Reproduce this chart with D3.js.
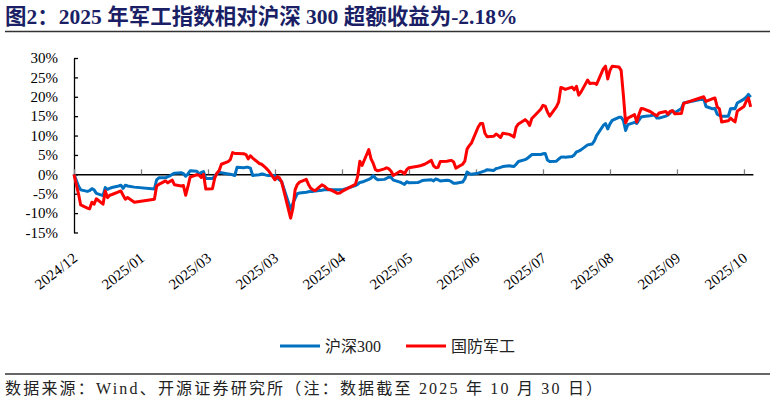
<!DOCTYPE html>
<html>
<head>
<meta charset="utf-8">
<title>军工指数 vs 沪深300</title>
<script src="https://d3js.org/d3.v7.min.js"></script>
<style>
  body { margin: 0; background: #fff; }
  text { font-family: "Liberation Serif", "Noto Sans CJK SC", serif; }
  .line { fill: none; stroke-width: 3px; stroke-linejoin: round; }
</style>
</head>
<body>
<div id="chart"></div>
<script>

// trading days, 2024-12-31 .. 2025-10-30
var dates = ["2024-12-31",
  "2025-01-02","2025-01-03","2025-01-06","2025-01-07","2025-01-08","2025-01-09","2025-01-10","2025-01-13","2025-01-14",
  "2025-01-15","2025-01-16","2025-01-17","2025-01-20","2025-01-21","2025-01-22","2025-01-23","2025-01-24","2025-01-27",
  "2025-02-05","2025-02-06","2025-02-07","2025-02-10","2025-02-11","2025-02-12","2025-02-13","2025-02-14","2025-02-17",
  "2025-02-18","2025-02-19","2025-02-20","2025-02-21","2025-02-24","2025-02-25","2025-02-26","2025-02-27","2025-02-28",
  "2025-03-03","2025-03-04","2025-03-05","2025-03-06","2025-03-07","2025-03-10","2025-03-11","2025-03-12","2025-03-13",
  "2025-03-14","2025-03-17","2025-03-18","2025-03-19","2025-03-20","2025-03-21","2025-03-24","2025-03-25","2025-03-26",
  "2025-03-27","2025-03-28","2025-03-31",
  "2025-04-01","2025-04-02","2025-04-03","2025-04-07","2025-04-08","2025-04-09","2025-04-10","2025-04-11","2025-04-14",
  "2025-04-15","2025-04-16","2025-04-17","2025-04-18","2025-04-21","2025-04-22","2025-04-23","2025-04-24","2025-04-25",
  "2025-04-28","2025-04-29","2025-04-30",
  "2025-05-06","2025-05-07","2025-05-08","2025-05-09","2025-05-12","2025-05-13","2025-05-14","2025-05-15","2025-05-16",
  "2025-05-19","2025-05-20","2025-05-21","2025-05-22","2025-05-23","2025-05-26","2025-05-27","2025-05-28","2025-05-29",
  "2025-05-30",
  "2025-06-03","2025-06-04","2025-06-05","2025-06-06","2025-06-09","2025-06-10","2025-06-11","2025-06-12","2025-06-13",
  "2025-06-16","2025-06-17","2025-06-18","2025-06-19","2025-06-20","2025-06-23","2025-06-24","2025-06-25","2025-06-26",
  "2025-06-27","2025-06-30",
  "2025-07-01","2025-07-02","2025-07-03","2025-07-04","2025-07-07","2025-07-08","2025-07-09","2025-07-10","2025-07-11",
  "2025-07-14","2025-07-15","2025-07-16","2025-07-17","2025-07-18","2025-07-21","2025-07-22","2025-07-23","2025-07-24",
  "2025-07-25","2025-07-28","2025-07-29","2025-07-30","2025-07-31",
  "2025-08-01","2025-08-04","2025-08-05","2025-08-06","2025-08-07","2025-08-08","2025-08-11","2025-08-12","2025-08-13",
  "2025-08-14","2025-08-15","2025-08-18","2025-08-19","2025-08-20","2025-08-21","2025-08-22","2025-08-25","2025-08-26",
  "2025-08-27","2025-08-28","2025-08-29",
  "2025-09-01","2025-09-02","2025-09-03","2025-09-04","2025-09-05","2025-09-08","2025-09-09","2025-09-10","2025-09-11",
  "2025-09-12","2025-09-15","2025-09-16","2025-09-17","2025-09-18","2025-09-19","2025-09-22","2025-09-23","2025-09-24",
  "2025-09-25","2025-09-26","2025-09-29","2025-09-30",
  "2025-10-09","2025-10-10","2025-10-13","2025-10-14","2025-10-15","2025-10-16","2025-10-17","2025-10-20","2025-10-21",
  "2025-10-22","2025-10-23","2025-10-24","2025-10-27","2025-10-28","2025-10-29","2025-10-30"]

// 沪深300 cumulative return, %
var hs300 = [0,
  -3.0,-4.0,-4.4,-4.2,-3.7,-4.0,-4.9,-5.5,-3.4,
  -3.9,-3.6,-3.4,-3.0,-2.8,-3.6,-2.8,-3.0,-3.3,
  -3.8,-1.4,-0.9,-0.9,-0.6,-0.4,0.0,0.3,0.4,
  0.2,-0.5,0.1,0.9,0.8,0.1,0.5,0.7,-1.1,
  -1.1,-0.5,0.2,0.5,0.4,0.1,0.0,-0.1,-0.3,
  1.8,1.7,1.8,1.8,1.6,-0.3,-0.1,0.1,0.0,
  -0.2,-0.3,-0.3,
  -0.9,-1.4,-1.9,-9.0,-7.5,-6.2,-5.0,-4.8,-4.6,
  -4.5,-4.4,-4.4,-4.3,-4.1,-4.0,-4.0,-4.0,-4.0,
  -4.0,-4.0,-4.0,
  -2.9,-2.6,-2.1,-2.0,-1.3,-1.0,-0.3,-1.0,-1.4,
  -1.3,-1.0,-0.7,-0.8,-1.5,-2.0,-2.3,-2.6,-1.9,
  -2.2,
  -2.1,-1.9,-1.6,-1.5,-1.4,-1.7,-1.2,-1.4,-1.7,
  -1.5,-1.6,-1.9,-2.3,-2.3,-2.0,-1.2,0.6,0.2,
  0.0,0.3,
  0.5,0.7,0.9,1.2,1.0,1.5,1.6,1.8,2.0,
  2.2,2.1,2.0,2.6,3.3,3.8,4.1,4.6,5.1,
  5.1,5.1,5.3,5.4,3.7,
  3.3,3.4,3.9,4.4,4.5,4.4,4.6,5.0,5.8,
  6.0,6.3,7.6,7.7,7.8,8.6,10.0,12.6,13.1,
  11.7,13.0,13.9,
  14.7,14.7,13.9,11.3,12.8,13.4,13.1,14.0,14.8,
  14.9,15.1,15.2,15.3,14.5,14.5,15.0,15.3,15.9,
  16.4,15.9,17.0,18.4,
  19.5,17.5,16.9,17.0,15.5,15.2,15.0,15.0,16.9,
  17.0,16.9,18.4,19.4,19.9,20.6,19.9]

// 国防军工 cumulative return, %
var defense = [0,
  -5.0,-7.9,-8.7,-8.9,-7.2,-7.7,-6.3,-7.7,-4.3,
  -6.0,-5.4,-5.2,-4.5,-4.3,-5.4,-6.4,-6.0,-7.2,
  -6.4,-3.0,-2.6,-1.7,-2.2,-1.8,-1.5,-2.7,-3.0,
  -2.9,-5.4,-3.2,-0.7,-0.1,-0.2,-0.8,0.0,-3.8,
  -3.7,-1.0,0.3,1.0,2.6,3.3,3.8,5.6,5.4,
  5.4,5.3,5.1,4.0,4.8,4.2,2.8,2.6,2.1,
  1.6,1.0,-1.4,
  -0.6,-0.9,-2.0,-11.3,-8.8,-4.0,-2.6,-2.0,-1.3,
  -2.6,-3.6,-4.0,-4.2,-2.7,-3.0,-3.5,-3.9,-4.0,
  -4.9,-4.8,-4.4,
  -2.6,-0.6,3.4,2.3,6.4,4.0,2.8,1.2,0.9,
  1.4,1.7,1.4,0.8,-0.3,0.8,0.6,0.1,1.2,
  1.7,
  2.1,2.2,2.4,2.6,3.6,2.2,1.7,1.8,3.3,
  3.4,3.5,3.6,3.2,1.6,2.6,3.4,6.5,7.4,
  8.1,12.2,
  13.1,13.1,10.6,9.7,9.8,10.4,10.0,9.5,10.6,
  10.3,10.0,9.6,12.2,13.0,14.1,13.6,12.6,14.4,
  15.0,16.8,17.8,17.6,16.1,
  15.0,17.4,18.6,22.4,22.2,21.9,22.5,21.8,22.7,
  20.4,21.2,24.3,23.4,23.5,23.5,23.2,27.2,27.9,
  24.6,26.8,27.9,
  27.7,26.8,20.4,13.3,14.5,15.4,13.5,15.5,17.0,
  16.9,16.2,15.8,15.4,15.1,15.8,16.2,15.5,16.3,
  16.4,15.6,15.7,18.3,
  20.0,18.8,19.5,19.7,17.4,16.9,13.5,13.8,14.5,
  14.0,13.5,16.3,17.5,18.8,19.7,17.4]

var yTicks = [30, 25, 20, 15, 10, 5, 0, -5, -10, -15]
var xTickDates = ["2024-12-31","2025-01-30","2025-03-01","2025-03-31","2025-04-30","2025-05-30",
  "2025-06-29","2025-07-29","2025-08-28","2025-09-27","2025-10-27"]
var seriesNames = ["沪深300", "国防军工"]
var seriesColors = ["#0070c0", "#ff0000"]

const width = 774
const height = 406

var parse = d3.utcParse("%Y-%m-%d")

var svg = d3.select('#chart')
  .append('svg')
  .attr('width', width)
  .attr('height', height)
  .style('display', 'block')
  .style('background', '#fff')

// title + rule
svg.append('text')
  .attr('x', 5)
  .attr('y', 24)
  .style('font-size', '21.5px')
  .style('font-weight', 'bold')
  .style('fill', '#1a1f66')
  .text('图2：2025 年军工指数相对沪深 300 超额收益为-2.18%')

svg.append('line')
  .attr('x1', 5).attr('x2', 770)
  .attr('y1', 31.5).attr('y2', 31.5)
  .style('stroke', '#333')
  .style('stroke-width', 1.3)

var xScale = d3.scaleUtc()
  .domain([parse("2024-12-31"), parse("2025-10-31")])
  .range([74, 752.9])

var yScale = d3.scaleLinear()
  .domain([-15, 30])
  .range([232.5, 58])

// y axis
var yAxis = d3.axisLeft(yScale)
  .tickValues(yTicks)
  .tickSize(-4)
  .tickSizeOuter(0)
  .tickPadding(16)
  .tickFormat(d => d + '%')

var gy = svg.append('g')
  .attr('transform', 'translate(74,0)')
  .call(yAxis)
gy.select('.domain').style('stroke', '#000').style('stroke-width', 1.3)
gy.selectAll('.tick line').style('stroke', '#000').style('stroke-width', 1.3)
gy.selectAll('text')
  .style('font-size', '15px')
  .style('fill', '#000')
  .style('font-family', '"Liberation Serif", serif')

// zero line with small ticks
var tickDates = xTickDates.map(parse)

var xAxis = d3.axisBottom(xScale)
  .tickValues(tickDates)
  .tickSize(-5)
  .tickSizeOuter(0)
  .tickFormat('')

var gx = svg.append('g')
  .attr('transform', 'translate(0,' + yScale(0) + ')')
  .call(xAxis)
gx.select('.domain').style('stroke', '#000').style('stroke-width', 1.5)
gx.selectAll('.tick line').style('stroke', '#808080').style('stroke-width', 1.3)

// rotated date labels
var xLabels = d3.axisBottom(xScale)
  .tickValues(tickDates)
  .tickSize(0)
  .tickFormat(d3.utcFormat('%Y/%m'))

var gl = svg.append('g')
  .attr('transform', 'translate(0,260)')
  .call(xLabels)
gl.select('.domain').remove()
gl.selectAll('text')
  .attr('x', 0)
  .attr('y', 0)
  .attr('dy', 0)
  .attr('text-anchor', 'end')
  .attr('transform', 'translate(4,0) rotate(-38)')
  .style('font-size', '15px')
  .style('fill', '#000')
  .style('font-family', '"Liberation Serif", serif')

// lines
var rows = dates.map((d, i) => ({date: parse(d), hs: hs300[i], jg: defense[i]}))

var lineHs = d3.line()
  .x(d => xScale(d.date))
  .y(d => yScale(d.hs))

var lineJg = d3.line()
  .x(d => xScale(d.date))
  .y(d => yScale(d.jg))

svg.append('path')
  .datum(rows)
  .attr('class', 'line')
  .style('stroke', seriesColors[0])
  .attr('d', lineHs)

svg.append('path')
  .datum(rows)
  .attr('class', 'line')
  .style('stroke', seriesColors[1])
  .attr('d', lineJg)

// legend
var legend = svg.append('g').attr('transform', 'translate(280,346)')
var legendX = [0, 126]
seriesNames.forEach((name, i) => {
  var g = legend.append('g').attr('transform', 'translate(' + legendX[i] + ',0)')
  g.append('line')
    .attr('x1', 0).attr('x2', 40)
    .attr('y1', 0).attr('y2', 0)
    .style('stroke', seriesColors[i])
    .style('stroke-width', 3)
  g.append('text')
    .attr('x', 45)
    .attr('y', 6)
    .style('font-size', '16px')
    .style('fill', '#222')
    .text(name)
})

// source note
svg.append('line')
  .attr('x1', 5).attr('x2', 770)
  .attr('y1', 374).attr('y2', 374)
  .style('stroke', '#333')
  .style('stroke-width', 1.3)

svg.append('text')
  .attr('x', 5)
  .attr('y', 394)
  .style('font-size', '16px')
  .style('letter-spacing', '2.2px')
  .style('fill', '#222')
  .text('数据来源：Wind、开源证券研究所（注：数据截至 2025 年 10 月 30 日）')

</script>
</body>
</html>
